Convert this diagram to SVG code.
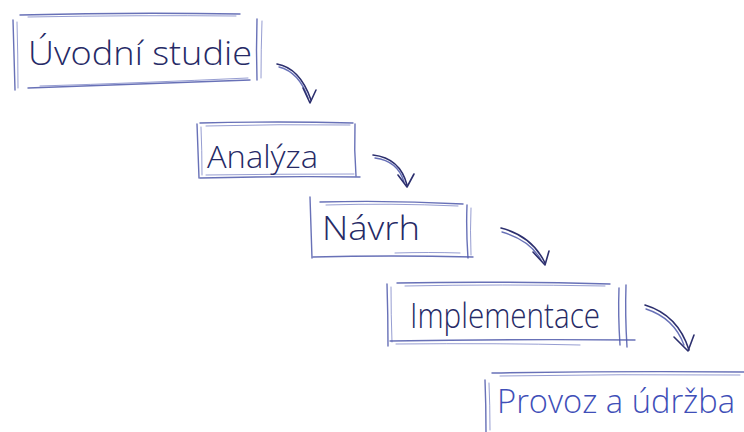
<svg xmlns="http://www.w3.org/2000/svg" width="744" height="432" viewBox="0 0 744 432">
  <style>
    .pen { fill: none; stroke: #4d58aa; stroke-width: 1.4; stroke-linecap: round; stroke-linejoin: round; opacity: 0.85; }
    .pen2 { fill: none; stroke: #6a74bd; stroke-width: 1; stroke-linecap: round; opacity: 0.7; }
    .ink { fill: none; stroke: #2c2f6e; stroke-width: 1.6; stroke-linecap: round; stroke-linejoin: round; }
    .lbl { font-family: "Open Sans", "DejaVu Sans", sans-serif; font-weight: 300; fill: #262a66; }
    .lbl2 { font-family: "Open Sans", "DejaVu Sans", sans-serif; font-weight: 300; fill: #3f4fb8; }
  </style>
  <rect width="744" height="432" fill="#ffffff"/>

  <!-- phase boxes, sketched with doubled strokes -->
  <g id="uvodni-studie">
    <path class="pen" d="M20,15 Q130,12 240,14"/>
    <path class="pen2" d="M28,17 Q140,15 236,16"/>
    <path class="pen" d="M13,20 Q14,55 15,90"/>
    <path class="pen2" d="M17,22 Q18,55 18,88"/>
    <path class="pen" d="M257,19 Q256,50 257,80"/>
    <path class="pen2" d="M262,21 Q261,50 261,78"/>
    <path class="pen" d="M28,88 Q140,84 250,80"/>
    <path class="pen2" d="M40,86 Q140,83 248,78"/>
    <text class="lbl" x="28" y="65" font-size="33" textLength="224" lengthAdjust="spacingAndGlyphs">Úvodní studie</text>
  </g>

  <g id="analyza">
    <path class="pen" d="M200,123 Q280,121 353,123"/>
    <path class="pen2" d="M206,126 Q280,124 350,125"/>
    <path class="pen" d="M197,124 Q198,150 199,178"/>
    <path class="pen2" d="M201,127 Q202,150 202,175"/>
    <path class="pen" d="M355,124 Q354,150 356,176"/>
    <path class="pen" d="M200,178 Q280,176 360,177"/>
    <path class="pen2" d="M206,175 Q280,174 354,174"/>
    <text class="lbl" x="207" y="168" font-size="31" textLength="111" lengthAdjust="spacingAndGlyphs">Analýza</text>
  </g>

  <g id="navrh">
    <path class="pen" d="M320,202 Q390,200 463,204"/>
    <path class="pen2" d="M326,205 Q390,203 458,206"/>
    <path class="pen" d="M310,197 Q311,228 312,258"/>
    <path class="pen" d="M467,205 Q466,230 468,258"/>
    <path class="pen2" d="M471,208 Q470,230 471,255"/>
    <path class="pen" d="M313,257 Q390,255 473,257"/>
    <path class="pen2" d="M395,253 Q430,252 460,253"/>
    <text class="lbl" x="322" y="240" font-size="33" textLength="98" lengthAdjust="spacingAndGlyphs">Návrh</text>
  </g>

  <g id="implementace">
    <path class="pen" d="M397,283 Q500,281 610,284"/>
    <path class="pen2" d="M405,286 Q500,284 605,286"/>
    <path class="pen" d="M387,284 Q388,315 388,346"/>
    <path class="pen2" d="M391,287 Q391,315 392,342"/>
    <path class="pen" d="M619,288 Q618,315 620,345"/>
    <path class="pen" d="M626,285 Q625,315 627,347"/>
    <path class="pen" d="M390,341 Q510,339 635,340"/>
    <path class="pen2" d="M396,344 Q500,343 580,345"/>
    <text class="lbl" x="410" y="328" font-size="34" textLength="190" lengthAdjust="spacingAndGlyphs">Implementace</text>
  </g>

  <g id="provoz-a-udrzba">
    <path class="pen" d="M492,373 Q620,371 744,372"/>
    <path class="pen2" d="M500,376 Q620,374 740,375"/>
    <path class="pen" d="M485,380 Q486,405 486,432"/>
    <path class="pen2" d="M489,383 Q490,405 490,430"/>
    <text class="lbl2" x="497" y="413" font-size="33" textLength="238" lengthAdjust="spacingAndGlyphs">Provoz a údržba</text>
  </g>

  <!-- curved hand-drawn arrows between phases -->
  <g id="connectors">
    <g>
      <path class="ink" d="M277,64 Q300,68 311,100"/>
      <path class="pen" d="M279,67 Q299,72 308,98"/>
      <path class="ink" d="M303,88 L310,103 L316,90"/>
    </g>
    <g>
      <path class="ink" d="M373,155 Q400,158 407,185"/>
      <path class="pen" d="M375,158 Q398,161 404,182"/>
      <path class="ink" d="M398,175 L407,187 L414,174"/>
    </g>
    <g>
      <path class="ink" d="M501,228 Q532,236 545,263"/>
      <path class="pen" d="M502,232 Q530,240 541,260"/>
      <path class="ink" d="M533,252 L545,265 L549,251"/>
    </g>
    <g>
      <path class="ink" d="M645,305 Q678,315 689,350"/>
      <path class="pen" d="M646,309 Q674,318 684,345"/>
      <path class="ink" d="M674,337 L688,351 L694,335"/>
    </g>
  </g>
</svg>
